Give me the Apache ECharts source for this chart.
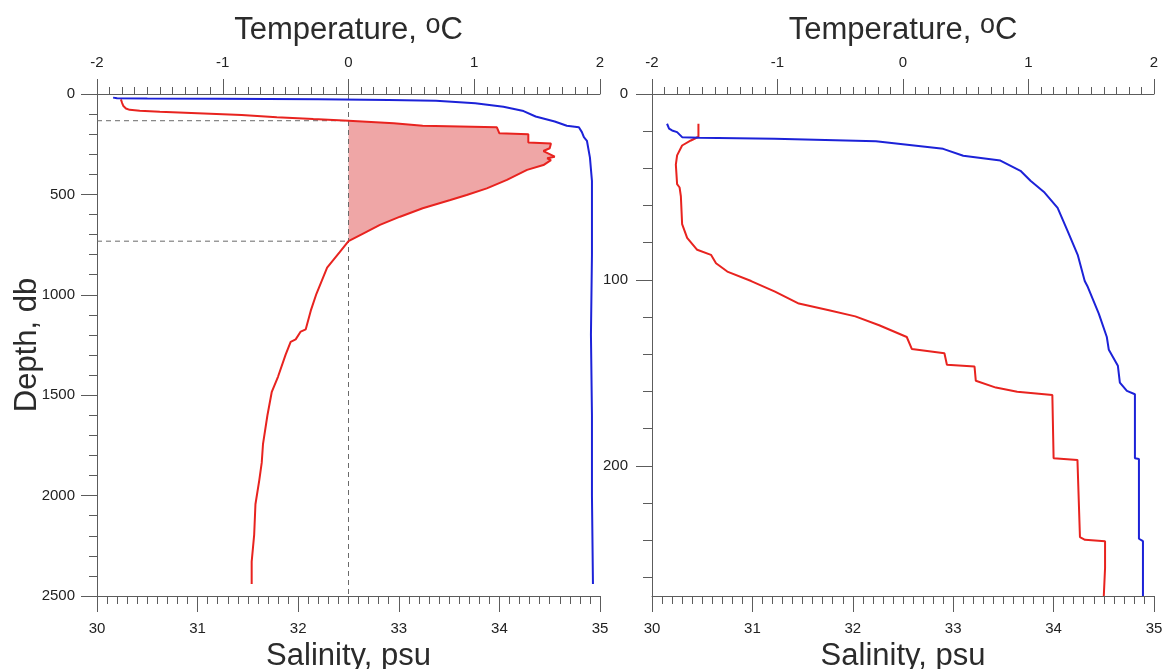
<!DOCTYPE html>
<html>
<head>
<meta charset="utf-8">
<script src="https://cdn.jsdelivr.net/npm/echarts@6/dist/echarts.min.js"></script>
<style>
  html, body { margin: 0; padding: 0; background: #ffffff; }
  #chart { width: 1168px; height: 669px; }
</style>
</head>
<body>
<div id="chart"></div>
<script>
// ---- Full-depth cast: [temperature °C, depth db] ----
const leftTemperature = [
  [-1.81, 27], [-1.80, 45], [-1.79, 60], [-1.77, 72], [-1.74, 79], [-1.66, 84],
  [-1.50, 89], [-1.20, 96], [-0.85, 105], [-0.57, 116], [-0.28, 125], [0.00, 133],
  [0.36, 146], [0.59, 158], [1.18, 166], [1.20, 196], [1.43, 201], [1.43, 241],
  [1.61, 246], [1.60, 270], [1.55, 284], [1.64, 312], [1.58, 320], [1.61, 329],
  [1.55, 354], [1.42, 378], [1.26, 428], [1.10, 470], [0.94, 503], [0.81, 528],
  [0.59, 569], [0.41, 611], [0.25, 652], [0.12, 694], [0.00, 733], [-0.07, 788],
  [-0.17, 865], [-0.255, 995], [-0.30, 1079], [-0.34, 1172], [-0.38, 1183],
  [-0.42, 1222], [-0.46, 1234], [-0.50, 1298], [-0.56, 1407], [-0.61, 1483],
  [-0.645, 1601], [-0.68, 1744], [-0.69, 1836], [-0.71, 1925], [-0.74, 2043],
  [-0.75, 2194], [-0.77, 2329], [-0.77, 2440]
];

// ---- Full-depth cast: [salinity psu, depth db] ----
const leftSalinity = [
  [30.16, 18], [30.20, 21], [30.50, 23], [31.20, 24], [32.20, 26], [32.90, 30],
  [33.37, 34], [33.76, 46], [34.04, 63], [34.24, 85], [34.36, 112], [34.55, 137],
  [34.67, 158], [34.79, 166], [34.82, 190], [34.84, 215], [34.87, 233], [34.90, 317],
  [34.92, 433], [34.92, 800], [34.91, 1200], [34.92, 1600], [34.92, 2000], [34.93, 2440]
];

// ---- Upper layer (0-270 db): [temperature °C, depth db] ----
const rightTemperature = [
  [-1.63, 16], [-1.63, 23], [-1.69, 25], [-1.76, 27.7], [-1.80, 33], [-1.81, 38],
  [-1.80, 48.5], [-1.78, 50.3], [-1.77, 55], [-1.76, 70], [-1.72, 77.4], [-1.64, 83.8],
  [-1.53, 86.5], [-1.49, 91], [-1.40, 95.5], [-1.21, 100.6], [-1.02, 106.3],
  [-0.83, 112.7], [-0.59, 116.3], [-0.38, 119.6], [-0.19, 124.4], [0.03, 130.7],
  [0.07, 137.1], [0.33, 139.4], [0.35, 145.6], [0.57, 146.6], [0.58, 154.2],
  [0.74, 157.9], [0.91, 160.1], [1.19, 161.9], [1.20, 195.9], [1.39, 196.8],
  [1.41, 238.3], [1.45, 239.8], [1.61, 240.5], [1.61, 255], [1.60, 270]
];

// ---- Upper layer (0-270 db): [salinity psu, depth db] ----
const rightSalinity = [
  [30.15, 16], [30.17, 18.6], [30.20, 19.6], [30.25, 20.5], [30.30, 23.2], [30.47, 23.5],
  [31.22, 24.1], [32.23, 25.4], [32.90, 29.5], [33.10, 33.2], [33.47, 35.8], [33.67, 41.3],
  [33.77, 46.7], [33.91, 53], [34.04, 61.2], [34.14, 73.8], [34.24, 86.5], [34.31, 100.6],
  [34.34, 103.7], [34.45, 118.1], [34.53, 130.7], [34.55, 137.6], [34.64, 146.1],
  [34.66, 155.2], [34.73, 159.7], [34.81, 161.5], [34.81, 195.9], [34.85, 196.3],
  [34.85, 239.2], [34.89, 240.5], [34.89, 270]
];

// Warm (T > 0) layer bounds, db
const warmLayer = [133, 733];

// Depth ticks for the upper-layer panel
const rightDepthMajor = [0, 100, 200];
const rightDepthMinor = [20, 40, 60, 80, 120, 140, 160, 180, 220, 240, 260];

const RED = '#e8231f';
const BLUE = '#1c22d8';
const FILL = '#efa6a6';
const AXIS = '#5c5c5c';
const TEXT = '#222222';
const TITLE = '#2b2b2b';
const FONT = '"Liberation Sans", Arial, sans-serif';

const tickLine = { color: AXIS, width: 1 };
const labelStyle = (margin) => ({
  show: true, margin: margin, fontSize: 15, color: TEXT, fontFamily: FONT,
  formatter: (v) => String(v)
});

function tempAxis(grid) {
  return {
    type: 'value', gridIndex: grid, position: 'top', min: -2, max: 2, interval: 1,
    name: 'Temperature, {o|o}C', nameLocation: 'middle', nameGap: 46, nameMoveOverlap: false,
    nameTextStyle: {
      fontSize: 31, lineHeight: 36, color: TITLE, fontFamily: FONT,
      rich: { o: { fontSize: 27, lineHeight: 27, verticalAlign: 'top', color: TITLE, fontFamily: FONT } }
    },
    axisLine: { show: true, onZero: false, lineStyle: tickLine },
    axisTick: { show: true, inside: false, length: 15, lineStyle: tickLine },
    minorTick: { show: true, splitNumber: 10, length: 7, lineStyle: tickLine },
    axisLabel: labelStyle(24),
    splitLine: { show: false }, minorSplitLine: { show: false }
  };
}

function salAxis(grid) {
  return {
    type: 'value', gridIndex: grid, position: 'bottom', min: 30, max: 35, interval: 1,
    name: 'Salinity, psu', nameLocation: 'middle', nameGap: 42, nameMoveOverlap: false,
    nameTextStyle: { fontSize: 31, lineHeight: 36, color: TITLE, fontFamily: FONT },
    axisLine: { show: true, onZero: false, lineStyle: tickLine },
    axisTick: { show: true, inside: false, length: 16, lineStyle: tickLine },
    minorTick: { show: true, splitNumber: 10, length: 8, lineStyle: tickLine },
    axisLabel: labelStyle(25),
    splitLine: { show: false }, minorSplitLine: { show: false }
  };
}

function profile(name, data, color, xi, yi, z) {
  return {
    type: 'line', name: name, data: data, xAxisIndex: xi, yAxisIndex: yi,
    showSymbol: false, symbol: 'none', smooth: false, z: z,
    lineStyle: { color: color, width: 2 }, itemStyle: { color: color }
  };
}

function dashed(data) {
  return {
    type: 'line', data: data, xAxisIndex: 0, yAxisIndex: 0, showSymbol: false, symbol: 'none',
    silent: true, z: 2, lineStyle: { color: '#6a6a6a', width: 1, type: [5, 4] }
  };
}

// Polygon between T = 0 and the temperature profile across the warm layer
const warmPolygon = [[0, warmLayer[0]]]
  .concat(leftTemperature.filter(p => p[1] >= warmLayer[0] && p[1] <= warmLayer[1]))
  .concat([[0, warmLayer[1]]]);

const option = {
  animation: false,
  backgroundColor: '#ffffff',
  grid: [
    { left: 97, top: 94, width: 503, height: 502, outerBoundsMode: 'none', containLabel: false },
    { left: 652, top: 94, width: 502, height: 502, outerBoundsMode: 'none', containLabel: false }
  ],
  xAxis: [tempAxis(0), salAxis(0), tempAxis(1), salAxis(1)],
  yAxis: [
    {
      type: 'value', gridIndex: 0, position: 'left', inverse: true, min: 0, max: 2500, interval: 500,
      name: 'Depth, db', nameLocation: 'middle', nameRotate: 90, nameGap: 52, nameMoveOverlap: false,
      nameTextStyle: { fontSize: 31, lineHeight: 36, color: TITLE, fontFamily: FONT },
      axisLine: { show: true, onZero: false, lineStyle: tickLine },
      axisTick: { show: true, inside: false, length: 16, lineStyle: tickLine },
      minorTick: { show: true, splitNumber: 5, length: 8, lineStyle: tickLine },
      axisLabel: labelStyle(22),
      splitLine: { show: false }, minorSplitLine: { show: false }
    },
    {
      type: 'value', gridIndex: 1, position: 'left', inverse: true, min: 0, max: 270,
      axisLine: { show: true, onZero: false, lineStyle: tickLine },
      axisTick: { show: true, inside: false, length: 16, lineStyle: tickLine, customValues: rightDepthMajor },
      axisLabel: Object.assign(labelStyle(24), { customValues: rightDepthMajor }),
      splitLine: { show: false }
    },
    {
      type: 'value', gridIndex: 1, position: 'left', offset: 0, inverse: true, min: 0, max: 270,
      axisLine: { show: false, onZero: false },
      axisTick: { show: true, inside: false, length: 9, lineStyle: tickLine, customValues: rightDepthMinor },
      axisLabel: { show: false },
      splitLine: { show: false }
    }
  ],
  series: [
    {
      type: 'custom', xAxisIndex: 0, yAxisIndex: 0, silent: true, z: 1,
      data: [warmPolygon[0]],
      renderItem: (params, api) => ({
        type: 'polygon',
        shape: { points: warmPolygon.map(p => api.coord(p)) },
        style: { fill: FILL }
      })
    },
    dashed([[-2, warmLayer[0]], [0, warmLayer[0]]]),
    dashed([[-2, warmLayer[1]], [0, warmLayer[1]]]),
    dashed([[0, 0], [0, 2500]]),
    profile('Temperature', leftTemperature, RED, 0, 0, 3),
    profile('Salinity', leftSalinity, BLUE, 1, 0, 4),
    profile('Temperature', rightTemperature, RED, 2, 1, 3),
    profile('Salinity', rightSalinity, BLUE, 3, 1, 4)
  ]
};

const chart = echarts.init(document.getElementById('chart'), null, { renderer: 'canvas' });
chart.setOption(option);
</script>
</body>
</html>
